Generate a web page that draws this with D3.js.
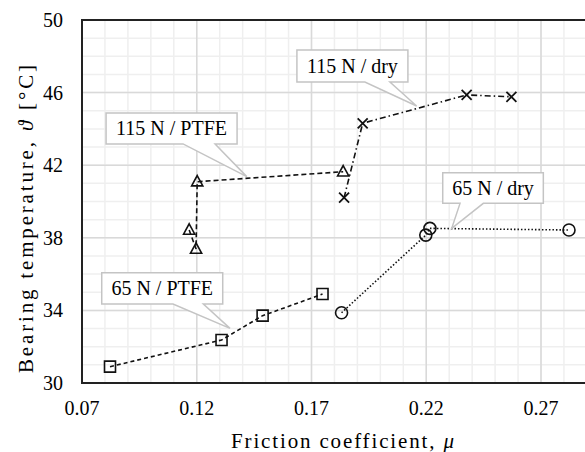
<!DOCTYPE html>
<html><head><meta charset="utf-8">
<script src="https://cdn.jsdelivr.net/npm/d3@7"></script>
</head><body style="margin:0;background:#fff">
<script>
// ---- data ----
const xTicks = [0.07, 0.12, 0.17, 0.22, 0.27];
const yTicks = [30, 34, 38, 42, 46, 50];
const ptfe65Mu = [0.0822, 0.1308, 0.1487, 0.1748];
const ptfe65T  = [30.9, 32.37, 33.71, 34.9];
const dry65Mu  = [0.1831, 0.2198, 0.2216, 0.2822];
const dry65T   = [33.87, 38.15, 38.52, 38.43];
const ptfe115Mu = [0.1167, 0.1197, 0.1202, 0.1838];
const ptfe115T  = [38.43, 37.38, 41.09, 41.64];
const dry115Mu  = [0.1842, 0.1923, 0.2376, 0.2571];
const dry115T   = [40.21, 44.31, 45.87, 45.77];
const labelText = ["115 N / PTFE", "115 N / dry", "65 N / PTFE", "65 N / dry"];
const labelMu   = [0.1418, 0.2158, 0.1345, 0.2311];
const labelT    = [41.37, 45.26, 33.01, 38.52];

// ---- layout ----
const FONT = "Liberation Serif, Tinos, Times New Roman, FreeSerif, Nimbus Roman, serif";
const W = 585, H = 452;
const x = d3.scaleLinear().domain([0.07, 0.29]).range([82, 586.9]);
const y = d3.scaleLinear().domain([30, 50]).range([383, 20]);
const svg = d3.select("body").append("svg").attr("width", W).attr("height", H).attr("font-family", FONT);

// grid
const minorX = d3.range(0, 23).map(i => 0.07 + i * 0.01);
const minorY = d3.range(30, 51, 1);
const g = svg.append("g");
g.selectAll(".mx").data(minorX).enter().append("line")
  .attr("x1", d => x(d)).attr("x2", d => x(d)).attr("y1", y(30)).attr("y2", y(50))
  .attr("stroke", "#efefef").attr("stroke-width", 1.5);
g.selectAll(".my").data(minorY).enter().append("line")
  .attr("x1", x(0.07)).attr("x2", x(0.29)).attr("y1", d => y(d)).attr("y2", d => y(d))
  .attr("stroke", "#efefef").attr("stroke-width", 1.5);
g.selectAll(".Mx").data(xTicks).enter().append("line")
  .attr("x1", d => x(d)).attr("x2", d => x(d)).attr("y1", y(30)).attr("y2", y(50))
  .attr("stroke", "#d9d9d9").attr("stroke-width", 1.5);
g.selectAll(".My").data(yTicks).enter().append("line")
  .attr("x1", x(0.07)).attr("x2", x(0.29)).attr("y1", d => y(d)).attr("y2", d => y(d))
  .attr("stroke", "#d9d9d9").attr("stroke-width", 1.5);

// tick labels
const fmt = d3.format(".2f");
svg.append("g").selectAll("text").data(xTicks).enter().append("text")
  .attr("x", d => x(d)).attr("y", 415).attr("text-anchor", "middle")
  .attr("font-size", 20).attr("font-family", FONT).attr("fill", "#000").text(d => fmt(d));
svg.append("g").selectAll("text").data(yTicks).enter().append("text")
  .attr("x", 63).attr("y", d => y(d) + 7).attr("text-anchor", "end")
  .attr("font-size", 20).attr("font-family", FONT).attr("fill", "#000").text(d => d);

// series lines
const line = d3.line().x(d => x(d[0])).y(d => y(d[1]));
const zip = (a, b) => a.map((v, i) => [v, b[i]]);
const series = [
  {pts: zip(ptfe65Mu, ptfe65T), dash: "4,3", sym: "square"},
  {pts: zip(dry65Mu, dry65T), dash: "1.5,2", sym: "circle"},
  {pts: zip(ptfe115Mu, ptfe115T), dash: "5,3", sym: "triangle"},
  {pts: zip(dry115Mu, dry115T), dash: "6,3,1.5,3", sym: "x"}
];
series.forEach(s => {
  svg.append("path").attr("d", line(s.pts)).attr("fill", "none")
    .attr("stroke", "#111").attr("stroke-width", 1.6).attr("stroke-dasharray", s.dash);
});
const symPath = {
  square: "M-5.5,-5.5H5.5V5.5H-5.5Z",
  circle: "M-6,0A6,6 0 1,0 6,0A6,6 0 1,0 -6,0Z",
  triangle: "M0,-6.2L5.6,4.2H-5.6Z",
  x: "M-5,-5L5,5M5,-5L-5,5"
};
series.forEach(s => {
  svg.append("g").selectAll("path").data(s.pts).enter().append("path")
    .attr("transform", d => `translate(${x(d[0])},${y(d[1])})`)
    .attr("d", symPath[s.sym]).attr("fill", "none").attr("stroke", "#111")
    .attr("stroke-width", s.sym === "x" ? 1.8 : 1.6);
});

// callouts (pixel offsets from anchor)
const boxDX = [-140.7, -119.7, -128.3, -9];
const boxDY = [-63.7, -56, -55.6, -55.6];
const boxW = [131, 111, 121, 100.6];
const boxH = [31, 32, 31.3, 30.6];
const wedgeL = [-63.7, -51.7, -57, 8.3];
const wedgeR = [-31.7, -26.7, -26.7, 31.6];
labelText.forEach((t, i) => {
  const ax = x(labelMu[i]), ay = y(labelT[i]);
  const l = ax + boxDX[i], tp = ay + boxDY[i], r = l + boxW[i], b = tp + boxH[i];
  const p = `M${l},${tp}H${r}V${b}H${ax + wedgeR[i]}L${ax},${ay}L${ax + wedgeL[i]},${b}H${l}Z`;
  svg.append("path").attr("d", p).attr("fill", "#fff").attr("stroke", "#c4c4c4").attr("stroke-width", 1.5);
  svg.append("text").attr("x", (l + r) / 2).attr("y", (tp + b) / 2 + 7)
    .attr("text-anchor", "middle").attr("font-size", 20).attr("font-family", FONT).attr("fill", "#000").text(t);
});

// frame
svg.append("rect").attr("x", x(0.07)).attr("y", y(50)).attr("width", x(0.29) - x(0.07)).attr("height", y(30) - y(50))
  .attr("fill", "none").attr("stroke", "#222").attr("stroke-width", 2);

// titles
const xt = svg.append("text").attr("x", 342.5).attr("y", 448).attr("text-anchor", "middle")
  .attr("font-size", 21).attr("font-family", FONT).attr("fill", "#000")
  .attr("textLength", 223).attr("lengthAdjust", "spacing");
xt.append("tspan").text("Friction coefficient, ");
xt.append("tspan").attr("font-style", "italic").text("μ");
const yt = svg.append("text").attr("transform", "translate(33,219) rotate(-90)").attr("text-anchor", "middle")
  .attr("font-size", 21).attr("font-family", FONT).attr("fill", "#000")
  .attr("textLength", 308).attr("lengthAdjust", "spacing");
yt.append("tspan").text("Bearing temperature, ");
yt.append("tspan").attr("font-style", "italic").text("ϑ");
yt.append("tspan").text(" [°C]");
</script>
</body></html>
